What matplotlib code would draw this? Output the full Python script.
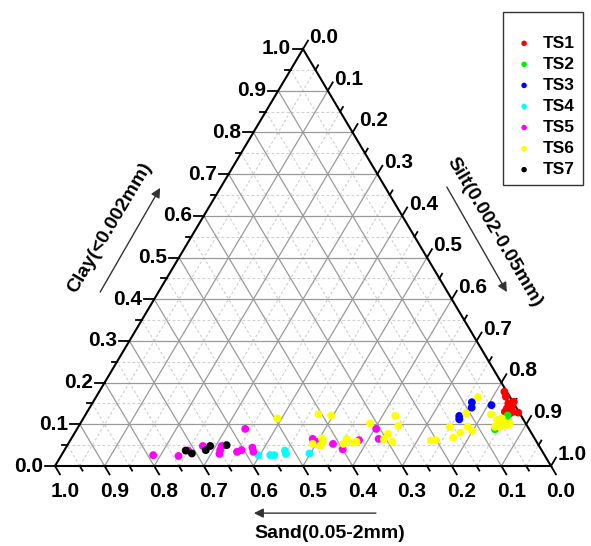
import matplotlib
matplotlib.use("Agg")
import matplotlib.pyplot as plt
import numpy as np

plt.rcParams['font.family'] = ['Liberation Sans', 'DejaVu Sans']
plt.rcParams['font.weight'] = 'bold'

# ---- data: clay and silt fractions (sand = 1 - clay - silt) ----
ts1_clay = [0.178, 0.166, 0.150, 0.144, 0.138, 0.130, 0.128, 0.126, 0.130, 0.154, 0.137, 0.151]
ts1_silt = [0.817, 0.826, 0.839, 0.849, 0.842, 0.859, 0.870, 0.854, 0.842, 0.848, 0.847, 0.846]

ts2_clay = [0.121, 0.088]
ts2_silt = [0.852, 0.843]

ts3_clay = [0.120, 0.112, 0.153, 0.140, 0.146]
ts3_silt = [0.755, 0.759, 0.764, 0.770, 0.807]

ts4_clay = [0.026, 0.026, 0.026, 0.037, 0.029, 0.030]
ts4_silt = [0.397, 0.421, 0.429, 0.445, 0.451, 0.498]

ts5_clay = [0.026, 0.024, 0.037, 0.048, 0.048, 0.038, 0.029, 0.089, 0.034, 0.038,
            0.044, 0.034, 0.065, 0.058, 0.053, 0.040, 0.062, 0.089, 0.065]
ts5_silt = [0.185, 0.237, 0.250, 0.274, 0.312, 0.314, 0.317, 0.339, 0.350, 0.357,
            0.376, 0.383, 0.487, 0.502, 0.534, 0.560, 0.582, 0.603, 0.620]

ts6_clay = [0.114, 0.124, 0.121, 0.053, 0.066, 0.058, 0.049, 0.053, 0.065, 0.056,
            0.058, 0.102, 0.064, 0.077, 0.058, 0.096, 0.120, 0.061, 0.062, 0.094,
            0.068, 0.080, 0.126, 0.094, 0.084, 0.165, 0.124, 0.110, 0.114, 0.102,
            0.104, 0.102, 0.094, 0.094, 0.098]
ts6_silt = [0.391, 0.469, 0.496, 0.493, 0.505, 0.511, 0.510, 0.555, 0.556, 0.572,
            0.579, 0.584, 0.631, 0.633, 0.651, 0.644, 0.626, 0.727, 0.737, 0.749,
            0.769, 0.777, 0.766, 0.785, 0.799, 0.770, 0.817, 0.836, 0.844, 0.843,
            0.855, 0.866, 0.850, 0.840, 0.862]

ts7_clay = [0.037, 0.030, 0.038, 0.048, 0.050]
ts7_silt = [0.245, 0.261, 0.285, 0.289, 0.321]

series_names = ['TS1', 'TS2', 'TS3', 'TS4', 'TS5', 'TS6', 'TS7']
series_colors = ['#ff0000', '#00ee00', '#0000ff', '#00ffff', '#ff00ff', '#ffff00', '#000000']
series_clay = [ts1_clay, ts2_clay, ts3_clay, ts4_clay, ts5_clay, ts6_clay, ts7_clay]
series_silt = [ts1_silt, ts2_silt, ts3_silt, ts4_silt, ts5_silt, ts6_silt, ts7_silt]

tick_values = np.round(np.arange(0, 1.01, 0.1), 2)
tick_labels = ['%.1f' % v for v in tick_values]
axis_titles = ['Clay(<0.002mm)', 'Silt(0.002-0.05mm)', 'Sand(0.05-2mm)']


def tern(silt, clay):
    silt = np.asarray(silt, float)
    clay = np.asarray(clay, float)
    return silt + clay / 2.0, clay


W, H = 591, 546
fig = plt.figure(figsize=(W / 100, H / 100), dpi=100)
ax = fig.add_axes([55 / W, 80 / H, 496 / W, 417 / H])
ax.set_xlim(0, 1)
ax.set_ylim(0, 1)
ax.axis('off')

# ---- grid ----
minor_vals = np.round(np.arange(0.05, 1.0, 0.1), 2)
major_vals = np.round(np.arange(0.1, 1.0, 0.1), 2)
for vals, kw in ((minor_vals, dict(color='#cfcfcf', lw=0.8, ls=(0, (2.5, 2)))),
                 (major_vals, dict(color='#9a9a9a', lw=0.9, ls='-'))):
    for v in vals:
        x, y = tern([0, 1 - v], [v, v])
        ax.plot(x, y, zorder=1, **kw)
        x, y = tern([v, v], [0, 1 - v])
        ax.plot(x, y, zorder=1, **kw)
        x, y = tern([1 - v, 0], [0, 1 - v])
        ax.plot(x, y, zorder=1, **kw)

# ---- frame ----
x, y = tern([0, 1, 0, 0], [0, 0, 1, 0])
ax.plot(x, y, color='black', lw=1.5, zorder=3, clip_on=False, solid_joinstyle='miter')

# ---- ticks & labels ----
all_ticks = np.round(np.arange(0, 1.001, 0.05), 2)
tfs = 15
for v in all_ticks:
    major = abs(round(v * 10) - v * 10) < 1e-6
    t = 0.02 if major else 0.011
    px, py = tern(0, v)
    ax.plot([px, px - t], [py, py], color='black', lw=1.3, clip_on=False, zorder=3)
    bx, by = tern(1 - v, 0)
    ax.plot([bx, bx + 0.5 * t], [by, by - t], color='black', lw=1.3, clip_on=False, zorder=3)
    rx, ry = tern(v, 1 - v)
    ax.plot([rx, rx + 0.5 * t], [ry, ry + t], color='black', lw=1.3, clip_on=False, zorder=3)

for v, lab in zip(tick_values, tick_labels):
    px, py = tern(0, v)
    ax.text(px - 0.024, py, lab, ha='right', va='center', fontsize=tfs, fontweight='bold')
    bx, by = tern(1 - v, 0)
    ax.text(bx + 0.02, -0.062, lab, ha='center', va='center', fontsize=tfs, fontweight='bold')
    rx, ry = tern(v, 1 - v)
    ax.text(rx + 0.013, ry + 0.028, lab, ha='left', va='center', fontsize=tfs, fontweight='bold')

# ---- axis titles with arrows ----
afs = 14
arrow_kw = dict(arrowstyle='-|>', color='#333333', lw=1.0, mutation_scale=14, shrinkA=0, shrinkB=0)
ax.annotate('', xy=(0.212, 0.667), xytext=(0.091, 0.417), arrowprops=arrow_kw, annotation_clip=False)
ax.text(0.110, 0.571, axis_titles[0], rotation=59.3, ha='center', va='center',
        fontsize=afs, fontweight='bold', rotation_mode='anchor')
ax.annotate('', xy=(0.911, 0.417), xytext=(0.790, 0.669), arrowprops=arrow_kw, annotation_clip=False)
ax.text(0.886, 0.561, axis_titles[1], rotation=-59.3, ha='center', va='center',
        fontsize=afs, fontweight='bold', rotation_mode='anchor')
ax.annotate('', xy=(0.401, -0.113), xytext=(0.647, -0.113), arrowprops=arrow_kw, annotation_clip=False)
ax.text(0.554, -0.161, axis_titles[2], ha='center', va='center', fontsize=afs, fontweight='bold')

# ---- data points ----
for name, col, cl, si in zip(series_names, series_colors, series_clay, series_silt):
    x, y = tern(si, cl)
    ax.scatter(x, y, s=32, color=col, edgecolors='none', label=name, zorder=4, clip_on=False)

leg = ax.legend(loc='upper right', bbox_to_anchor=(583 / W, 1 - 12 / H),
                bbox_transform=fig.transFigure, frameon=True, fancybox=False,
                edgecolor='black', borderaxespad=0, borderpad=0.45,
                handletextpad=0.35, labelspacing=0.34, markerscale=0.7,
                handlelength=1.5, prop=dict(size=12.5, weight='bold'),
                title=' ', title_fontsize=8)
leg.get_frame().set_linewidth(1.0)

fig.savefig('out.png', dpi=100)
